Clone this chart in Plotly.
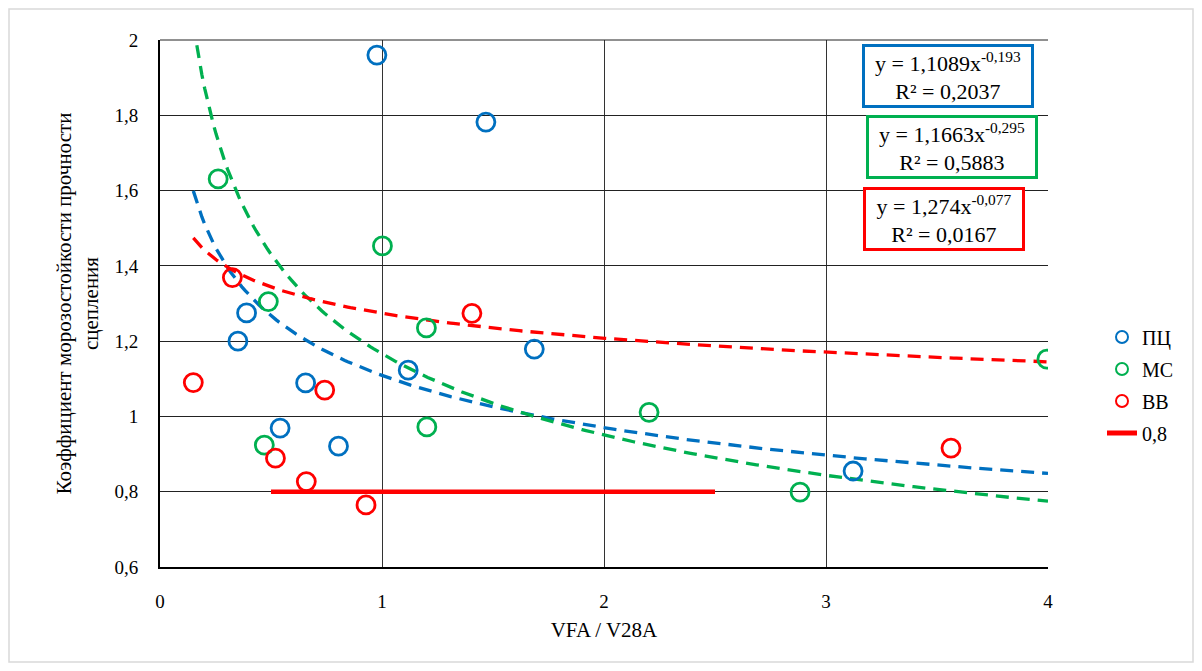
import numpy as np
import plotly.graph_objects as go

# Data
pc_x = [0.977, 1.468, 0.351, 0.39, 0.656, 0.541, 0.804, 1.118, 1.686, 3.122]
pc_y = [1.96, 1.782, 1.200, 1.275, 1.089, 0.969, 0.921, 1.123, 1.179, 0.855]
ms_x = [0.262, 1.002, 0.488, 1.200, 0.470, 1.202, 2.203, 2.883, 3.995]
ms_y = [1.631, 1.453, 1.305, 1.235, 0.924, 0.972, 1.011, 0.799, 1.152]
bb_x = [0.150, 0.326, 0.520, 0.659, 0.928, 0.742, 1.405, 3.563]
bb_y = [1.090, 1.369, 0.889, 0.827, 0.765, 1.070, 1.274, 0.916]
lim_x = [0.5, 2.5]
lim_y = [0.8, 0.8]

# Trendline coefficients (y = a * x^b)
pc_fit = (1.1089, -0.193)
ms_fit = (1.1663, -0.295)
bb_fit = (1.274, -0.077)
fit_x_range = (0.15, 4.0)

BLUE = "#0070C0"
GREEN = "#00B050"
RED = "#FF0000"
FONT = "Liberation Serif, Times New Roman, DejaVu Serif, serif"

# page geometry: figure placed at 8px body margin
W, H = 1186, 655
ML, MR, MT, MB = 152, 146, 32, 96
PW, PH = W - ML - MR, H - MT - MB

fig = go.Figure()

xx = np.linspace(fit_x_range[0], fit_x_range[1], 300)
for (a, b), col in [(pc_fit, BLUE), (ms_fit, GREEN), (bb_fit, RED)]:
    fig.add_trace(go.Scatter(x=xx, y=a * xx ** b, mode="lines",
                             line=dict(color=col, width=3.3, dash="13px,8px"),
                             showlegend=False, hoverinfo="skip"))

for name, xs, ys, col in [("ПЦ", pc_x, pc_y, BLUE), ("МС", ms_x, ms_y, GREEN), ("ВВ", bb_x, bb_y, RED)]:
    fig.add_trace(go.Scatter(x=xs, y=ys, mode="markers", name=name, legendgroup=name,
                             marker=dict(symbol="circle-open", size=18, color=col,
                                         line=dict(width=2.8, color=col))))

fig.add_trace(go.Scatter(x=lim_x, y=lim_y, mode="lines", name="0,8", legendgroup="lim",
                         line=dict(color=RED, width=4.5)))

fig.update_layout(
    width=W, height=H,
    margin=dict(l=ML, r=MR, t=MT, b=MB, autoexpand=False),
    paper_bgcolor="white", plot_bgcolor="white",
    separators=", ",
    font=dict(family=FONT, size=18, color="#000"),
    legend=dict(x=(1102 - 8 - ML) / PW, y=1 - (385 - 8 - MT) / PH,
                xanchor="left", yanchor="middle",
                font=dict(family=FONT, size=20), tracegroupgap=3,
                itemsizing="constant"),
    xaxis=dict(range=[0, 4], dtick=1, tick0=0, showgrid=True, gridcolor="#333",
               gridwidth=1, showline=True, linecolor="#000", linewidth=2,
               zeroline=False, ticks="", ticklabelstandoff=16, automargin=False,
               tickfont=dict(family=FONT, size=19),
               title=dict(text="VFA / V28A", font=dict(family=FONT, size=21), standoff=12)),
    yaxis=dict(range=[0.6, 2], dtick=0.2, tick0=0.6, showgrid=True, gridcolor="#222",
               gridwidth=1, showline=True, linecolor="#000", linewidth=2,
               zeroline=False, ticks="", ticklabelstandoff=16, automargin=False,
               tickfont=dict(family=FONT, size=19),
               title=dict(text="Коэффициент морозостойкости прочности<br>сцепления",
                          font=dict(family=FONT, size=21), standoff=10)),
)

# top border line
fig.add_shape(type="line", xref="paper", yref="paper", x0=0, x1=1, y0=1, y1=1,
              line=dict(color="#222", width=1))
# outer chart border
fig.add_shape(type="rect", xref="paper", yref="paper",
              x0=-(ML - 1) / PW, x1=1 + (MR - 1) / PW, y0=-(MB - 1) / PH, y1=1 + (MT - 1) / PH,
              line=dict(color="#d9d9d9", width=1.5))


def px2paper(x, y):
    return (x - 8 - ML) / PW, 1 - (y - 8 - MT) / PH


def eq_box(text, xc, yc, w, col):
    px, py = px2paper(xc, yc)
    fig.add_annotation(xref="paper", yref="paper", x=px, y=py, text=text,
                       xanchor="center", yanchor="middle",
                       showarrow=False, align="center", width=w, height=56,
                       font=dict(family=FONT, size=22, color="#000"),
                       bordercolor=col, borderwidth=3, borderpad=1, bgcolor="white")


eq_box("y = 1,1089x<sup>-0,193</sup><br>R² = 0,2037", 948, 76, 164, BLUE)
eq_box("y = 1,1663x<sup>-0,295</sup><br>R² = 0,5883", 952, 147, 164, GREEN)
eq_box("y = 1,274x<sup>-0,077</sup><br>R² = 0,0167", 944, 219, 154, RED)

fig.write_html("out.html")
